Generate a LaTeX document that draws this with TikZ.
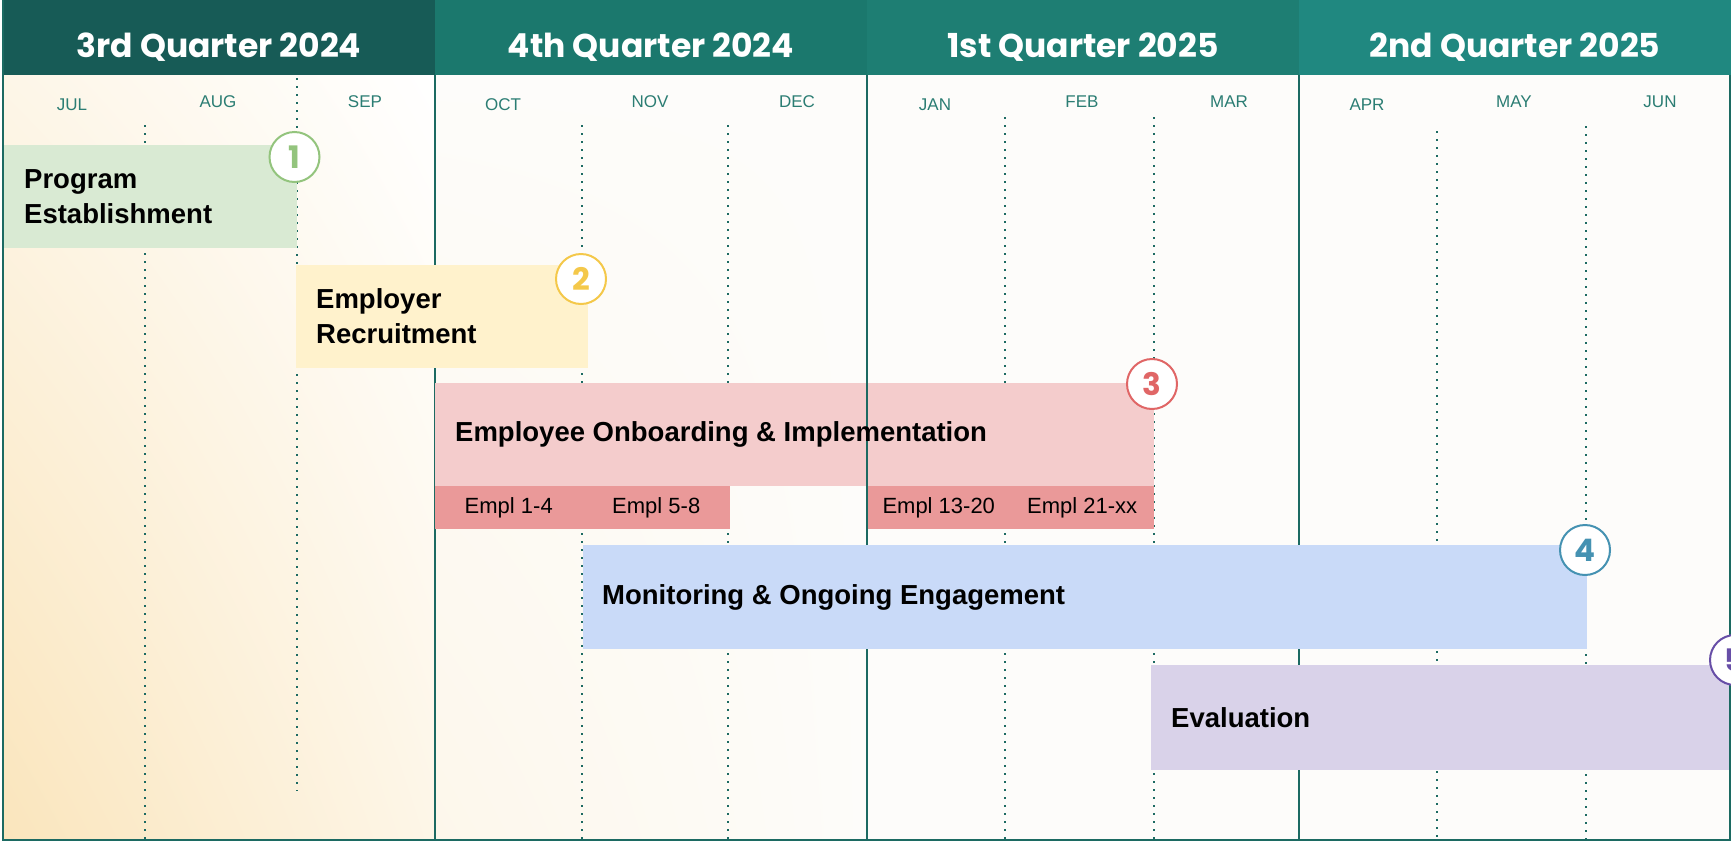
\documentclass[tikz,border=0pt]{standalone}
\usepackage{fontspec}
\usetikzlibrary{shadings}
\setmainfont{Liberation Sans}
\newfontfamily\headfont{Poppins}

\definecolor{headthree}{HTML}{175B56}
\definecolor{headfour}{HTML}{1B786D}
\definecolor{headone}{HTML}{1E7E73}
\definecolor{headtwo}{HTML}{208880}
\definecolor{gridteal}{HTML}{1C6A62}
\definecolor{monthteal}{HTML}{2B7D73}
\definecolor{bgcream}{HTML}{FAE5BC}
\definecolor{bgwhite}{HTML}{FDFCFA}
\definecolor{estgreen}{HTML}{D9EAD3}
\definecolor{recyellow}{HTML}{FFF2CC}
\definecolor{onbred}{HTML}{F4CCCC}
\definecolor{emplred}{HTML}{EA9999}
\definecolor{monblue}{HTML}{C9DAF8}
\definecolor{evalpurple}{HTML}{D9D2E9}
\definecolor{numgreen}{HTML}{93C47D}
\definecolor{numyellow}{HTML}{F4C84A}
\definecolor{numred}{HTML}{E06666}
\definecolor{numblue}{HTML}{4592B2}
\definecolor{numpurple}{HTML}{674EA7}

\begin{document}
\begin{tikzpicture}[x=1pt, y=-1pt,
    headtext/.style={text=white, anchor=base, font=\headfont\bfseries\fontsize{33}{38}\selectfont},
    month/.style={text=monthteal, anchor=base, font=\fontsize{17}{20}\selectfont},
    dots/.style={gridteal, line width=1.8pt, dash pattern=on 1.8pt off 6.2pt},
    qline/.style={gridteal, line width=2.5pt},
    bar/.style={anchor=north west, inner sep=0pt, outer sep=0pt},
    bartext/.style={anchor=west, align=left, inner sep=0pt, font=\bfseries\fontsize{27.5}{35}\selectfont},
    empltext/.style={font=\fontsize{22}{26}\selectfont},
    numcircle/.style={circle, fill=white, line width=2pt, minimum size=50pt, inner sep=0pt, font=\headfont\bfseries\fontsize{31}{31}\selectfont}]
    \useasboundingbox (0,0) rectangle (1731,841);

    % Background
    \shade[upper left=bgcream!35, upper right=white, lower left=bgcream, lower right=bgcream!35] (3,75) rectangle (435,840);
    \shade[upper left=bgwhite, upper right=bgwhite, lower left=bgcream!30, lower right=bgwhite] (435,75) rectangle (867,840);
    \fill[bgwhite] (867,75) rectangle (1731,840);

    % Quarter headers
    \fill[headthree] (3,0) rectangle (435,75);
    \fill[headfour] (435,0) rectangle (867,75);
    \fill[headone] (867,0) rectangle (1299,75);
    \fill[headtwo] (1299,0) rectangle (1731,75);
    \node[headtext] (q3) at (219,57) {3rd Quarter 2024};
    \node[headtext] (q4) at (651,57) {4th Quarter 2024};
    \node[headtext] (q1) at (1083,57) {1st Quarter 2025};
    \node[headtext] (q2) at (1515,57) {2nd Quarter 2025};

    % Months
    \node[month] (jul) at (72,110) {JUL};
    \node[month] (aug) at (218,107) {AUG};
    \node[month] (sep) at (365,107) {SEP};
    \node[month] (oct) at (503,110) {OCT};
    \node[month] (nov) at (650,107) {NOV};
    \node[month] (dec) at (797,107) {DEC};
    \node[month] (jan) at (935,110) {JAN};
    \node[month] (feb) at (1082,107) {FEB};
    \node[month] (mar) at (1229,107) {MAR};
    \node[month] (apr) at (1367,110) {APR};
    \node[month] (may) at (1514,107) {MAY};
    \node[month] (jun) at (1660,107) {JUN};

    % Month dividers
    \draw[dots] (145,125) -- (145,840);
    \draw[dots] (297,78) -- (297,791);
    \draw[dots] (582,125) -- (582,840);
    \draw[dots] (728,125) -- (728,840);
    \draw[dots] (1005,117) -- (1005,840);
    \draw[dots] (1154,117) -- (1154,840);
    \draw[dots] (1437,131) -- (1437,840);
    \draw[dots] (1586,126) -- (1586,840);

    % Quarter dividers
    \draw[qline] (435,75) -- (435,840);
    \draw[qline] (867,75) -- (867,840);
    \draw[qline] (1299,75) -- (1299,840);

    % Phase bars
    \node[bar, fill=estgreen, minimum width=294pt, minimum height=103pt] (establish) at (3,145) {};
    \node[bar, fill=recyellow, minimum width=292pt, minimum height=103pt] (recruit) at (296,265) {};
    \node[bar, fill=onbred, minimum width=719pt, minimum height=103pt] (onboard) at (435,383) {};
    \node[bar, fill=emplred, minimum width=147.5pt, minimum height=43pt] (empl1) at (435,486) {};
    \node[bar, fill=emplred, minimum width=147.5pt, minimum height=43pt] (empl2) at (582.5,486) {};
    \node[bar, fill=emplred, minimum width=143.5pt, minimum height=43pt] (empl3) at (867,486) {};
    \node[bar, fill=emplred, minimum width=143.5pt, minimum height=43pt] (empl4) at (1010.5,486) {};
    \node[bar, fill=monblue, minimum width=1004pt, minimum height=104pt] (monitor) at (583,545) {};
    \node[bar, fill=evalpurple, minimum width=578pt, minimum height=105pt] (evaluate) at (1151,665) {};
    \draw[qline] (867,383) -- (867,529);

    % Bar labels
    \node[bartext] (establish label) at ([xshift=21pt]establish.west) {Program\\Establishment};
    \node[bartext] (recruit label) at ([xshift=20pt]recruit.west) {Employer\\Recruitment};
    \node[bartext] (onboard label) at ([xshift=20pt]onboard.west) {Employee Onboarding \& Implementation};
    \node[bartext] (monitor label) at ([xshift=19pt]monitor.west) {Monitoring \& Ongoing Engagement};
    \node[bartext] (evaluate label) at ([xshift=20pt]evaluate.west) {Evaluation};
    \node[empltext] at (empl1.center) {Empl 1-4};
    \node[empltext] at (empl2.center) {Empl 5-8};
    \node[empltext] at (empl3.center) {Empl 13-20};
    \node[empltext] at (empl4.center) {Empl 21-xx};

    % Frame
    \draw[gridteal, line width=2pt] (3,0) -- (3,840) -- (1731,840);
    \draw[gridteal, line width=2pt] (1730,75) -- (1730,840);

    % Phase numbers
    \node[numcircle, draw=numgreen, text=numgreen] (n1) at (294.5,157) {1};
    \node[numcircle, draw=numyellow, text=numyellow] (n2) at (581,279) {2};
    \node[numcircle, draw=numred, text=numred] (n3) at (1152,384) {3};
    \node[numcircle, draw=numblue, text=numblue] (n4) at (1585,550) {4};
    \node[numcircle, draw=numpurple, text=numpurple] (n5) at (1735,660) {5};
\end{tikzpicture}
\end{document}
